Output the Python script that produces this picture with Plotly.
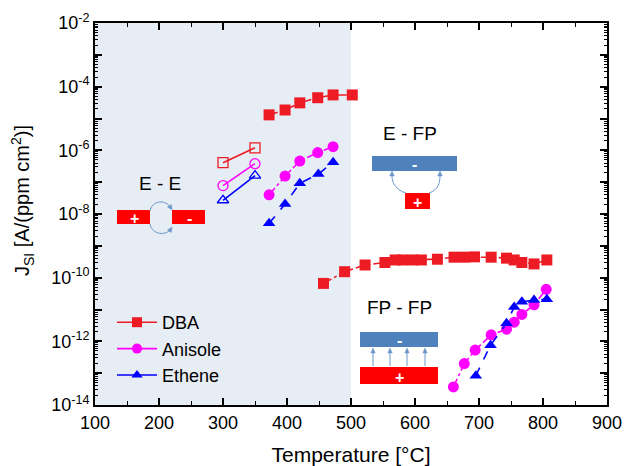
import math
import plotly.graph_objects as go

# ---------------- data ----------------
temp_open = [300, 350]
dba_open = [4.1e-7, 1.2e-6]
anisole_open = [7.8e-8, 3.8e-7]
ethene_open = [2.7e-8, 1.6e-7]

temp_dba_low = [372, 397, 420, 448, 472, 502]
dba_low = [1.3e-5, 1.85e-5, 3.1e-5, 4.5e-5, 5.5e-5, 5.5e-5]
temp_ani_low = [372, 397, 420, 448, 472]
anisole_low = [4.0e-8, 1.55e-7, 4.6e-7, 8.5e-7, 1.3e-6]
temp_eth_low = [372, 397, 420, 449, 472]
ethene_low = [5.1e-9, 2.05e-8, 9.2e-8, 1.8e-7, 4.2e-7]

temp_dba_high = [457, 490, 522, 553, 569, 581, 596, 610, 635, 661, 677, 693, 719, 743, 755, 767, 786, 806]
dba_high = [6.6e-11, 1.54e-10, 2.5e-10, 3.0e-10, 3.6e-10, 3.6e-10, 3.6e-10, 3.6e-10, 3.8e-10,
            4.4e-10, 4.4e-10, 4.5e-10, 4.4e-10, 4.1e-10, 3.6e-10, 3.0e-10, 2.7e-10, 3.6e-10]
temp_ani_high = [660, 677, 694, 719, 743, 755, 767, 786, 805]
anisole_high = [3.7e-14, 2.0e-13, 5.3e-13, 1.6e-12, 2.4e-12, 4.0e-12, 7.0e-12, 1.4e-11, 4.3e-11]
temp_eth_high = [695, 718, 743, 755, 767, 786, 806]
ethene_high = [8.3e-14, 7.6e-13, 3.7e-12, 1.2e-11, 1.75e-11, 2.0e-11, 2.1e-11]

series_names = ["DBA", "Anisole", "Ethene"]
y_exponents = list(range(-14, -1))
x_ticks = [100, 200, 300, 400, 500, 600, 700, 800, 900]

# ---------------- styles ----------------
RED = "#ED1C24"
MAG = "#FF00FF"
BLUE = "#0000FF"
FONT = "Liberation Sans, Arial, sans-serif"
ARROW = "#6C97C8"
BOXBLUE = "#4F81BD"

W, H = 624, 466
L, R, T, B = 95, 607, 23, 405


def px(x, y):
    return (x - L) / (R - L), (B - y) / (B - T)


fig = go.Figure()

# open symbols
for ys, col, sym in [(dba_open, RED, "square-open"), (anisole_open, MAG, "circle-open"),
                     (ethene_open, BLUE, "triangle-up-open")]:
    fig.add_trace(go.Scatter(x=temp_open, y=ys, mode="lines+markers", showlegend=False,
                             line=dict(color=col, width=1.6),
                             marker=dict(symbol=sym, size=10, color=col, line=dict(width=1.3, color=col))))

# filled symbols
groups = [
    (temp_dba_low, dba_low, RED, "square", "dashdot"),
    (temp_dba_high, dba_high, RED, "square", "dashdot"),
    (temp_ani_low, anisole_low, MAG, "circle", "dashdot"),
    (temp_ani_high, anisole_high, MAG, "circle", "dashdot"),
    (temp_eth_low, ethene_low, BLUE, "triangle-up", "dash"),
    (temp_eth_high, ethene_high, BLUE, "triangle-up", "dash"),
]
for xs, ys, col, sym, dash in groups:
    fig.add_trace(go.Scatter(x=xs, y=ys, mode="lines+markers", showlegend=False,
                             line=dict(color=col, width=1.6, dash=dash),
                             marker=dict(symbol=sym, size=11, color=col)))

# legend entries
for name, col, sym in zip(series_names, [RED, MAG, BLUE], ["square", "circle", "triangle-up"]):
    fig.add_trace(go.Scatter(x=[None], y=[None], mode="lines+markers", name=name,
                             line=dict(color=col, width=1.6),
                             marker=dict(symbol=sym, size=10, color=col)))

shapes = []
annotations = []

# shaded region
shapes.append(dict(type="rect", xref="x", yref="paper", x0=100, x1=500, y0=0, y1=1,
                   fillcolor="#E7EDF5", line=dict(width=0), layer="below"))


def rect(x0, y0, x1, y1, color):
    a = px(x0, y0)
    b = px(x1, y1)
    shapes.append(dict(type="rect", xref="paper", yref="paper", x0=a[0], y0=b[1], x1=b[0], y1=a[1],
                       fillcolor=color, line=dict(width=0)))


def text(x, y, s, size=19, color="black", angle=0):
    p = px(x, y)
    annotations.append(dict(xref="paper", yref="paper", x=p[0], y=p[1], text=s, showarrow=False,
                            textangle=angle,
                            font=dict(family=FONT, size=size, color=color), xanchor="center", yanchor="middle"))


def curve(pts):
    (x0, y0), (c1x, c1y), (c2x, c2y), (x1, y1) = [px(*p) for p in pts]
    path = f"M {x0},{y0} C {c1x},{c1y} {c2x},{c2y} {x1},{y1}"
    shapes.append(dict(type="path", xref="paper", yref="paper", path=path,
                       line=dict(color=ARROW, width=1)))


def head(tip, d, size=5, half=2.3):
    tx, ty = tip
    dx, dy = d
    n = math.hypot(dx, dy)
    dx, dy = dx / n, dy / n
    bx, by = tx - dx * size, ty - dy * size
    nx, ny = -dy, dx
    p1 = px(tx, ty)
    p2 = px(bx + nx * half, by + ny * half)
    p3 = px(bx - nx * half, by - ny * half)
    path = f"M {p1[0]},{p1[1]} L {p2[0]},{p2[1]} L {p3[0]},{p3[1]} Z"
    shapes.append(dict(type="path", xref="paper", yref="paper", path=path,
                       fillcolor=ARROW, line=dict(color=ARROW, width=0.5)))


# y-axis title (placed like the original, slightly above the axis centre)
text(22, 201, "J<sub>SI</sub> [A/(ppm cm<sup>2</sup>)]", size=20, angle=-90)

# E - E diagram
text(160, 183, "E - E")
rect(117, 210, 150, 224, "#FF0000")
rect(172, 210, 205, 224, "#FF0000")
text(134, 218, "<b>+</b>", size=16, color="white")
text(189, 218, "<b>-</b>", size=16, color="white")
curve([(150, 211), (152, 200), (166, 199), (171, 208)])
head((172, 210), (0.6, 1))
curve([(150, 224), (152, 235), (166, 236), (171, 229)])
head((172, 227), (0.6, -1))

# E - FP diagram
text(410, 133, "E - FP")
rect(372, 156, 457, 171, BOXBLUE)
rect(405, 193, 430, 209, "#FF0000")
text(414.5, 164, "<b>-</b>", size=16, color="white")
text(417.5, 202, "<b>+</b>", size=16, color="white")
curve([(406, 193), (396, 190), (392, 183), (392, 176)])
head((392, 171), (0, -1))
curve([(429, 193), (438, 190), (440, 183), (440, 176)])
head((440, 171), (0, -1))

# FP - FP diagram
text(399, 307, "FP - FP")
rect(360, 332, 438, 347, BOXBLUE)
rect(360, 367, 438, 384, "#FF0000")
text(399, 340, "<b>-</b>", size=16, color="white")
text(399, 377, "<b>+</b>", size=16, color="white")
for ax_ in [373, 390, 407, 425]:
    p0 = px(ax_, 366)
    p1 = px(ax_, 352)
    shapes.append(dict(type="line", xref="paper", yref="paper", x0=p0[0], y0=p0[1], x1=p1[0], y1=p1[1],
                       line=dict(color=ARROW, width=1)))
    head((ax_, 348), (0, -1), size=5, half=2.2)

lg = px(112, 394)

fig.update_layout(
    width=W, height=H,
    margin=dict(l=L, r=W - R, t=T, b=H - B, autoexpand=False),
    paper_bgcolor="white", plot_bgcolor="white",
    font=dict(family=FONT, size=18, color="black"),
    shapes=shapes, annotations=annotations,
    legend=dict(x=lg[0], y=lg[1], xanchor="left", yanchor="bottom", bgcolor="rgba(0,0,0,0)",
                font=dict(family=FONT, size=18), itemwidth=40, tracegroupgap=0),
)

fig.update_xaxes(
    range=[100, 900], tickvals=x_ticks, ticks="inside", ticklen=7, tickwidth=1.5, tickcolor="black",
    showline=True, linewidth=2, linecolor="black", mirror="ticks", showgrid=False, zeroline=False,
    minor=dict(dtick=50, ticks="inside", ticklen=4, tickwidth=1.2, tickcolor="black", showgrid=False),
    title=dict(text="Temperature [°C]", font=dict(size=21), standoff=16),
    tickfont=dict(size=18), automargin=False,
)

fig.update_yaxes(
    type="log", range=[-14, -2],
    tickmode="array", tickvals=[10.0 ** k for k in y_exponents],
    ticktext=[f"10<sup>{k}</sup>" if k % 2 == 0 else "" for k in y_exponents],
    ticks="inside", ticklen=7, tickwidth=1.5, tickcolor="black",
    showline=True, linewidth=2, linecolor="black", mirror="ticks", showgrid=False, zeroline=False,
    minor=dict(dtick="D1", ticks="inside", ticklen=3, tickwidth=1, tickcolor="black", showgrid=False),
    tickfont=dict(size=18), automargin=False,
)

fig.write_html("out.html")
